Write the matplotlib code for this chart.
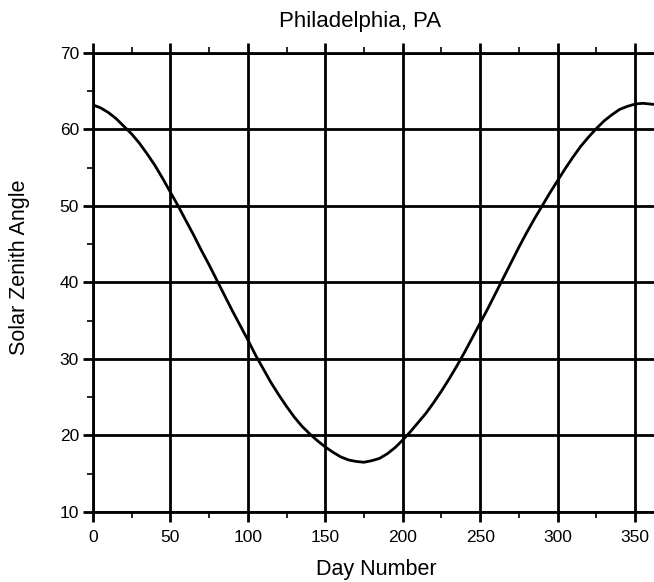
import matplotlib
matplotlib.use('Agg')
import matplotlib.pyplot as plt
from matplotlib.ticker import MultipleLocator

plt.rcParams['font.family'] = ['Liberation Sans', 'DejaVu Sans']

# noon solar zenith angle, every 5 days
days = list(range(0, 366, 5))
zenith = [63.2, 62.8, 62.2, 61.4, 60.4, 59.4, 58.2, 56.8, 55.3, 53.6,
          51.8, 50.0, 48.1, 46.2, 44.2, 42.3, 40.3, 38.3, 36.3, 34.4,
          32.5, 30.5, 28.7, 26.9, 25.3, 23.8, 22.4, 21.2, 20.2, 19.3,
          18.5, 17.8, 17.2, 16.8, 16.6, 16.5, 16.7, 17.0, 17.6, 18.4,
          19.4, 20.5, 21.7, 22.9, 24.3, 25.8, 27.4, 29.1, 30.9, 32.8,
          34.7, 36.6, 38.6, 40.6, 42.6, 44.6, 46.5, 48.3, 50.0, 51.7,
          53.3, 54.9, 56.4, 57.8, 59.0, 60.1, 61.1, 61.9, 62.6, 63.0,
          63.3, 63.4, 63.3, 63.2]
x_ticks = [0, 50, 100, 150, 200, 250, 300, 350]
y_ticks = [10, 20, 30, 40, 50, 60, 70]

fig = plt.figure(figsize=(6.54, 5.82), dpi=100)
ax = fig.add_axes([0.142, 0.1203, 0.858, 0.789])

ax.plot(days, zenith, color='black', lw=2.0, zorder=3)

ax.set_xlim(0, 362.2)
ax.set_ylim(10, 70)
ax.set_xticks(x_ticks)
ax.set_yticks(y_ticks)
ax.xaxis.set_minor_locator(MultipleLocator(25))
ax.yaxis.set_minor_locator(MultipleLocator(5))
ax.grid(True, which='major', color='black', lw=2.0)
ax.set_axisbelow(True)

ax.tick_params(which='major', direction='out', length=7, width=2, labelsize=12.5,
               top=True, right=False, color='black')
ax.tick_params(which='minor', direction='out', length=4, width=1.2,
               top=True, right=False)
ax.tick_params(axis='x', pad=6)
ax.tick_params(axis='y', pad=3)

for s in ['left', 'bottom', 'top']:
    ax.spines[s].set_linewidth(2)
ax.spines['right'].set_visible(False)

fig.text(360 / 654, 1 - 22 / 582, 'Philadelphia, PA', fontsize=16,
         ha='center', va='center')
fig.text(376 / 654, 1 - 569 / 582, 'Day Number', fontsize=15.5,
         ha='center', va='center')
fig.text(20 / 654, 1 - 267 / 582, 'Solar Zenith Angle', fontsize=15.5,
         ha='center', va='center', rotation=90)

fig.savefig('out.png', dpi=100)
